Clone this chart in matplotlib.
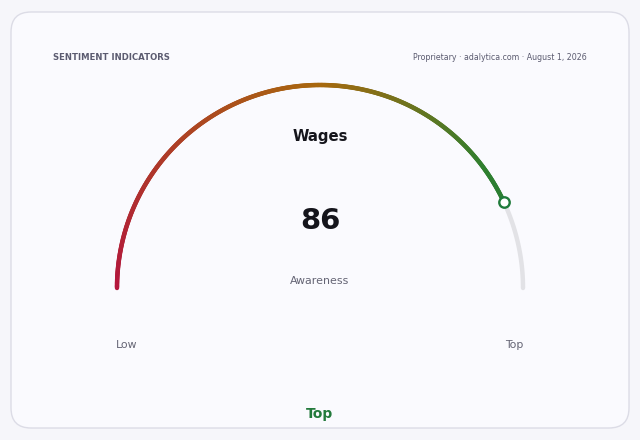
import numpy as np
import matplotlib
matplotlib.use("Agg")
import matplotlib.pyplot as plt
from matplotlib.collections import LineCollection
from matplotlib.colors import LinearSegmentedColormap
from matplotlib.patches import FancyBboxPatch

# ---- data ----
title = "Wages"
metric_label = "Awareness"
value = 86
min_value = 0
max_value = 100
scale_labels = ["Low", "Top"]
band_label = "Top"
header_left = "SENTIMENT INDICATORS"
header_right = "Proprietary · adalytica.com · August 1, 2026"

fig = plt.figure(figsize=(6.4, 4.4), dpi=100)
fig.patch.set_facecolor("#f6f6fa")
ax = fig.add_axes([0, 0, 1, 1])
ax.set_xlim(0, 640)
ax.set_ylim(440, 0)
ax.axis("off")

card = FancyBboxPatch((11, 12), 618, 416, boxstyle="round,pad=0,rounding_size=20",
                      facecolor="#fafafe", edgecolor="#dcdce6", linewidth=1.0)
ax.add_patch(card)

ax.text(53, 57, header_left, fontsize=6.1, fontweight="bold", color="#5b5b70",
        ha="left", va="center")
ax.text(587, 57, header_right, fontsize=5.7, color="#5b5b70", ha="right", va="center")

cx, cy, r = 320, 288, 203

def pt(v):
    frac = (v - min_value) / (max_value - min_value)
    a = np.pi * (1 - frac)
    return cx + r * np.cos(a), cy - r * np.sin(a)

# track
tv = np.linspace(value, max_value, 100)
tx, ty = pt(tv)
ax.plot(tx, ty, color="#e2e2e6", lw=3.2, solid_capstyle="round", zorder=2)

cmap = LinearSegmentedColormap.from_list(
    "g", [(0.0, "#b3163d"), (0.5, "#a8680e"), (0.8, "#2f7f2f"), (1.0, "#1e7a3a")])
vv = np.linspace(min_value, value, 400)
xx, yy = pt(vv)
pts = np.column_stack([xx, yy]).reshape(-1, 1, 2)
segs = np.concatenate([pts[:-1], pts[1:]], axis=1)
lc = LineCollection(segs, colors=cmap((vv[:-1] - min_value) / (max_value - min_value)),
                    linewidths=3.2, capstyle="round", zorder=3)
ax.add_collection(lc)

mx, my = pt(value)
ax.plot([mx], [my], marker="o", ms=7.5, mfc="white", mec="#1f7a3a", mew=1.7, zorder=4)

ax.text(cx, 137, title, fontsize=10.7, fontweight="bold", color="#15151c", ha="center", va="center")
ax.text(cx, 221, f"{value}", fontsize=21, fontweight="bold", color="#15151c", ha="center", va="center")
ax.text(cx, 281, metric_label, fontsize=7.9, color="#646474", ha="center", va="center")

lx, _ = pt(min_value)
rx, _ = pt(max_value)
ax.text(lx + 10, 345, scale_labels[0], fontsize=7.8, color="#646474", ha="center", va="center")
ax.text(rx - 9, 345, scale_labels[1], fontsize=7.8, color="#646474", ha="center", va="center")

ax.text(cx, 414, band_label, fontsize=10, fontweight="bold", color="#237a3c", ha="center", va="center")

fig.savefig("out.png", dpi=100, facecolor=fig.get_facecolor())
